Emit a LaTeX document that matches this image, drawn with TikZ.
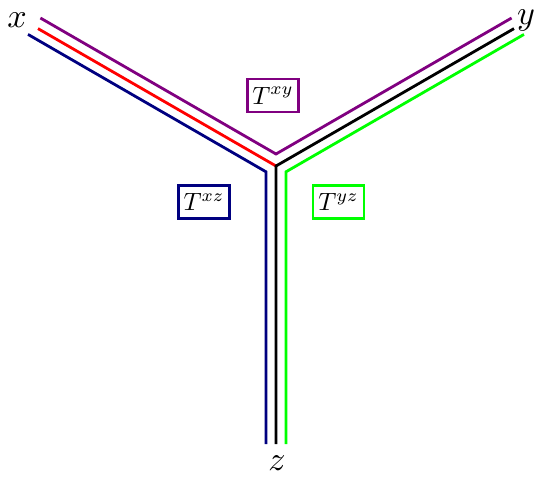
\documentclass[tikz,border=0pt]{standalone}
\usepackage{graphicx}
\usetikzlibrary{calc}
\definecolor{wpurple}{RGB}{128,0,128}
\definecolor{wnavy}{RGB}{0,0,128}
\definecolor{wgreen}{RGB}{0,255,0}
\definecolor{wred}{RGB}{255,0,0}
\newcommand{\tlabel}[1]{\scalebox{2.5}{$#1$}}
\newcommand{\axlabel}[1]{\scalebox{3.4}{$#1$}}
\begin{document}
\begin{tikzpicture}[x=1pt,y=-1pt,
  leg/.style={line width=2.8pt,line join=miter},
  tbox/.style={draw,line width=2.2pt,minimum width=51pt,minimum height=33pt,inner sep=0pt},
  axislabel/.style={inner sep=0pt}]
\useasboundingbox (0,0) rectangle (541,477);
% junction points
\coordinate (C) at (276,166);
\coordinate (P) at (276,154);
\coordinate (B) at (266,171.8);
\coordinate (G) at (286,171.8);
% arm ends
\coordinate (redx) at ($(C)+(-238,-137.4)$);
\coordinate (blky) at ($(C)+(238,-137.4)$);
\coordinate (blkz) at (276,444);
\coordinate (purx) at ($(P)+(-235.6,-136)$);
\coordinate (pury) at ($(P)+(235.6,-136)$);
\coordinate (blux) at ($(B)+(-238,-137.4)$);
\coordinate (bluz) at (266,444);
\coordinate (grny) at ($(G)+(238,-137.4)$);
\coordinate (grnz) at (286,444);
% legs
\draw[leg,wpurple] (purx) -- (P) -- (pury);
\draw[leg,wred] (redx) -- (C);
\draw[leg,black] (blky) -- (C) -- (blkz);
\draw[leg,wnavy] (blux) -- (B) -- (bluz);
\draw[leg,wgreen] (grny) -- (G) -- (grnz);
% labels
\node[axislabel] (lx) at (17,20) {\axlabel{x}};
\node[axislabel] (ly) at (526,20) {\axlabel{y}};
\node[axislabel] (lz) at (277,463) {\axlabel{z}};
\node[tbox,wpurple] (txy) at (273,95.5) {\color{black}\tlabel{T^{xy}}};
\node[tbox,wnavy] (txz) at (204,202) {\color{black}\tlabel{T^{xz}}};
\node[tbox,wgreen] (tyz) at (338.5,202) {\color{black}\tlabel{T^{yz}}};
\end{tikzpicture}
\end{document}
